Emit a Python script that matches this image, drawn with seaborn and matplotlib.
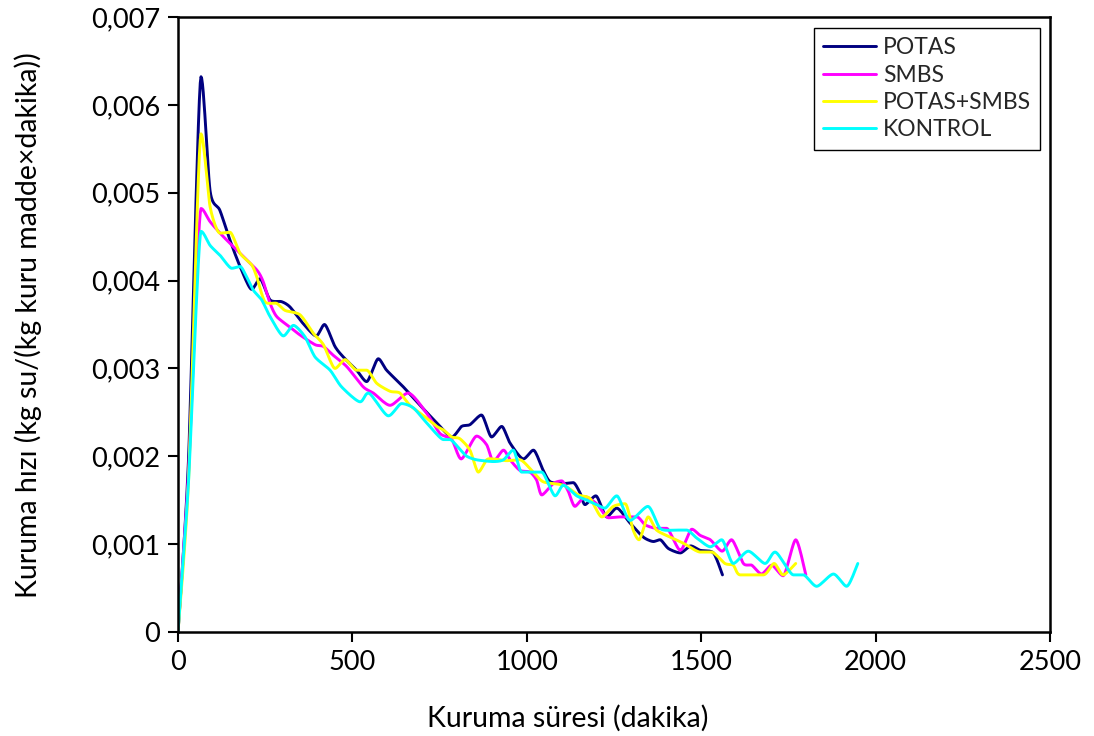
import numpy as np
import pandas as pd
import matplotlib
matplotlib.use("Agg")
import matplotlib.pyplot as plt
import seaborn as sns
from matplotlib.ticker import FuncFormatter, MultipleLocator

# ---- data (time in minutes, rate in 1e-3 kg water / (kg dry matter x min)) ----
series_names = ["POTAS", "SMBS", "POTAS+SMBS", "KONTROL"]

potas_t = [0, 30, 66, 92, 120, 149, 178, 211, 235, 264, 297, 321, 359, 396, 420, 450, 474, 512,
           541, 574, 598, 646, 694, 742, 785, 813, 837, 870, 899, 928, 952, 990, 1019, 1047, 1067,
           1105, 1133, 1153, 1167, 1198, 1229, 1258, 1296, 1334, 1363, 1382, 1406, 1440, 1470,
           1497, 1535, 1561]
potas_v = [0, 1.95, 6.32, 5.02, 4.80, 4.46, 4.16, 3.90, 4.02, 3.78, 3.76, 3.70, 3.51, 3.37, 3.50,
           3.25, 3.13, 2.98, 2.85, 3.11, 2.98, 2.79, 2.58, 2.38, 2.22, 2.34, 2.36, 2.47, 2.22, 2.34,
           2.15, 1.97, 2.07, 1.84, 1.71, 1.69, 1.70, 1.58, 1.45, 1.55, 1.31, 1.41, 1.24, 1.08, 1.03,
           1.05, 0.95, 0.90, 0.98, 0.93, 0.90, 0.65]

smbs_t = [0, 30, 66, 92, 130, 178, 226, 244, 264, 283, 321, 350, 393, 417, 445, 484, 531, 560,
          608, 660, 713, 751, 785, 812, 856, 885, 904, 933, 952, 980, 1009, 1028, 1043, 1076,
          1100, 1119, 1138, 1167, 1200, 1234, 1267, 1315, 1339, 1372, 1401, 1440, 1473, 1497,
          1526, 1560, 1587, 1621, 1645, 1673, 1702, 1735, 1771, 1800]
smbs_v = [0, 1.8, 4.82, 4.67, 4.50, 4.31, 4.12, 3.99, 3.74, 3.59, 3.47, 3.38, 3.27, 3.25, 3.15,
          3.02, 2.79, 2.72, 2.58, 2.72, 2.49, 2.26, 2.19, 1.97, 2.23, 2.13, 1.94, 2.07, 1.96, 1.84,
          1.82, 1.73, 1.56, 1.69, 1.72, 1.60, 1.43, 1.54, 1.46, 1.30, 1.31, 1.31, 1.22, 1.18, 1.18,
          0.93, 1.17, 1.10, 1.05, 0.92, 1.05, 0.78, 0.76, 0.66, 0.76, 0.64, 1.05, 0.65]

ps_t = [0, 30, 66, 92, 120, 149, 178, 211, 226, 249, 283, 307, 350, 388, 417, 450, 479, 512, 541,
        570, 608, 636, 665, 708, 742, 761, 785, 808, 837, 861, 885, 904, 942, 980, 1014, 1047,
        1105, 1148, 1181, 1215, 1248, 1282, 1305, 1322, 1348, 1372, 1411, 1449, 1497, 1530, 1568,
        1592, 1612, 1678, 1709, 1735, 1771]
ps_v = [0, 1.7, 5.67, 4.84, 4.54, 4.55, 4.31, 4.18, 4.04, 3.76, 3.74, 3.66, 3.61, 3.40, 3.27,
        3.00, 3.10, 2.98, 2.98, 2.83, 2.74, 2.72, 2.58, 2.45, 2.34, 2.30, 2.22, 2.20, 2.07, 1.82,
        1.96, 1.97, 1.95, 1.96, 1.84, 1.71, 1.67, 1.56, 1.52, 1.31, 1.43, 1.46, 1.16, 1.05, 1.31,
        1.16, 1.08, 1.01, 0.91, 0.91, 0.78, 0.76, 0.65, 0.65, 0.78, 0.65, 0.78]

kon_t = [0, 30, 66, 92, 120, 154, 178, 197, 216, 240, 264, 302, 331, 364, 393, 436, 469, 522, 546,
         603, 641, 675, 713, 761, 780, 808, 828, 856, 904, 933, 961, 985, 1014, 1043, 1081, 1105,
         1143, 1172, 1200, 1224, 1258, 1296, 1347, 1382, 1420, 1458, 1487, 1526, 1559, 1592, 1635,
         1683, 1712, 1764, 1793, 1831, 1879, 1917, 1949]
kon_v = [0, 1.7, 4.56, 4.40, 4.29, 4.14, 4.16, 4.04, 3.89, 3.78, 3.59, 3.37, 3.49, 3.36, 3.13, 2.98,
         2.79, 2.62, 2.72, 2.46, 2.60, 2.55, 2.38, 2.19, 2.19, 2.08, 2.00, 1.96, 1.94, 1.96, 2.07,
         1.82, 1.82, 1.82, 1.55, 1.67, 1.55, 1.50, 1.45, 1.41, 1.55, 1.27, 1.43, 1.18, 1.16, 1.16,
         1.07, 0.97, 1.05, 0.78, 0.92, 0.78, 0.91, 0.65, 0.65, 0.52, 0.66, 0.52, 0.78]

series_t = [potas_t, smbs_t, ps_t, kon_t]
series_v = [potas_v, smbs_v, ps_v, kon_v]
colors = ["#000080", "#FF00FF", "#FFFF00", "#00FFFF"]

x_ticks = [0, 500, 1000, 1500, 2000, 2500]
y_max = 0.007


def smooth(x, y, n=12, tension=0.25):
    """Cardinal-spline rendering of a polyline; extrema keep a flat tangent."""
    x = np.asarray(x, float)
    y = np.asarray(y, float)
    k = (1.0 - tension) / 2.0
    mx = np.empty_like(x)
    my = np.empty_like(y)
    mx[1:-1] = k * (x[2:] - x[:-2])
    my[1:-1] = k * (y[2:] - y[:-2])
    d1 = y[1:-1] - y[:-2]
    d2 = y[2:] - y[1:-1]
    ext = (d1 * d2) <= 0
    my[1:-1][ext] = 0.0
    mx[0] = k * (x[1] - x[0]); my[0] = k * (y[1] - y[0])
    mx[-1] = k * (x[-1] - x[-2]); my[-1] = k * (y[-1] - y[-2])
    s = np.linspace(0, 1, n, endpoint=False)
    h00 = 2 * s ** 3 - 3 * s ** 2 + 1
    h10 = s ** 3 - 2 * s ** 2 + s
    h01 = -2 * s ** 3 + 3 * s ** 2
    h11 = s ** 3 - s ** 2
    xs, ys = [], []
    for i in range(len(x) - 1):
        xs.append(h00 * x[i] + h10 * mx[i] + h01 * x[i + 1] + h11 * mx[i + 1])
        ys.append(h00 * y[i] + h10 * my[i] + h01 * y[i + 1] + h11 * my[i + 1])
    xs.append([x[-1]])
    ys.append([y[-1]])
    return np.concatenate(xs), np.concatenate(ys)


frames = []
for name, t, v in zip(series_names, series_t, series_v):
    sx, sy = smooth(t, v)
    frames.append(pd.DataFrame({"t": sx, "v": sy * 1e-3, "series": name}))
df = pd.concat(frames, ignore_index=True)

sns.set_theme(style="white")
plt.rcParams["font.family"] = ["Lato", "DejaVu Sans"]

fig = plt.figure(figsize=(10.94, 7.36), dpi=100)
ax = fig.add_axes([178 / 1094, 1 - 632 / 736, (1050 - 178) / 1094, (632 - 17) / 736])

sns.lineplot(data=df, x="t", y="v", hue="series", hue_order=series_names,
             palette=colors, sort=False, estimator=None, linewidth=2.1, ax=ax)

ax.set_xlim(0, 2500)
ax.set_ylim(0, y_max)
ax.set_xticks(x_ticks)
ax.yaxis.set_major_locator(MultipleLocator(0.001))
ax.yaxis.set_major_formatter(FuncFormatter(
    lambda val, pos: "0" if abs(val) < 1e-12 else f"{val:.3f}".replace(".", ",")))

for sp in ax.spines.values():
    sp.set_color("black")
    sp.set_linewidth(1.8)
ax.tick_params(axis="both", direction="out", length=7, width=1.5, color="black",
               labelsize=19.5, labelcolor="black", pad=6, bottom=True, left=True)

ax.set_xlabel("Kuruma süresi (dakika)", fontsize=20.5, color="black", va="center")
ax.set_ylabel("Kuruma hızı (kg su/(kg kuru madde×dakika))", fontsize=20.5, color="black",
              va="center")
ax.xaxis.set_label_coords((568 - 178) / 872, (632 - 718) / 615)
ax.yaxis.set_label_coords((28 - 178) / 872, (632 - 325) / 615)

leg = ax.legend(loc="upper right", bbox_to_anchor=((1040 - 178) / 872, (632 - 28) / 615),
                fontsize=16.5, frameon=True, fancybox=False, edgecolor="black", framealpha=1,
                handlelength=2.3, borderpad=0.4, labelspacing=0.28, handletextpad=0.3,
                borderaxespad=0, title=None)
leg.get_frame().set_linewidth(1.0)
for line in leg.get_lines():
    line.set_linewidth(2.1)

fig.savefig("out.png", dpi=100)
